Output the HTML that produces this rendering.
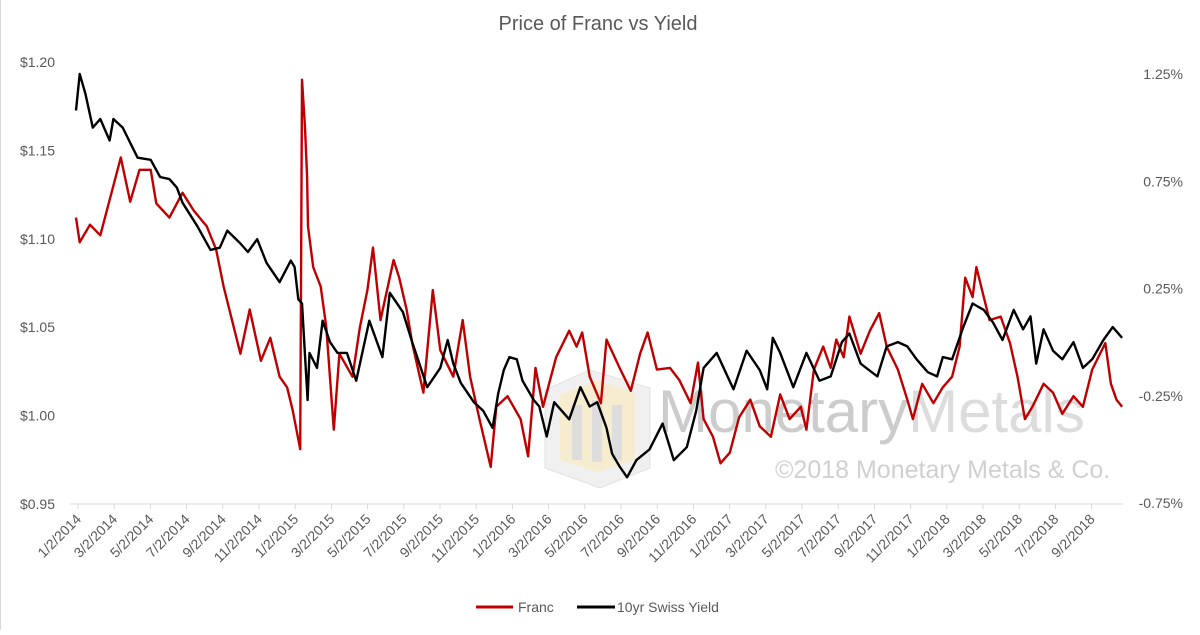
<!DOCTYPE html>
<html><head><meta charset="utf-8"><style>
body{margin:0;background:#fff;}
svg text{font-family:"Liberation Sans",sans-serif;}
</style></head><body>
<svg id="chart" width="1200" height="630" xmlns="http://www.w3.org/2000/svg">
<rect x="0" y="0" width="1200" height="630" fill="#fff"/>
<line x1="0.5" y1="0" x2="0.5" y2="630" stroke="#d9d9d9"/>
<text x="598" y="30" text-anchor="middle" font-size="20" fill="#595959">Price of Franc vs Yield</text>
<g opacity="0.85">
<polygon points="545,390 590,370 650,388 650,468 600,488 545,468" fill="#eeeeee" stroke="#dddddd"/>
<polygon points="560,395 598,380 635,393 635,460 598,472 560,460" fill="#f5ebc8"/>
<rect x="572" y="405" width="10" height="55" fill="#d8d8d8"/>
<rect x="592" y="400" width="10" height="62" fill="#d8d8d8"/>
<rect x="612" y="405" width="10" height="55" fill="#d8d8d8"/>
<text x="658" y="432" font-size="60" fill="#c4c4c4">Monetary<tspan fill="#d6d6d6">Metals</tspan></text>
<text x="775" y="478" font-size="25" fill="#c8c8c8">©2018 Monetary Metals &amp; Co.</text>
</g>
<g id="axes"></g>
<g id="series"></g>
<g>
<g>
<line x1="476" y1="607" x2="513" y2="607" stroke="#c00000" stroke-width="3"/>
<text x="518" y="612" font-size="14" fill="#595959">Franc</text></g>
<g>
<line x1="577" y1="607" x2="615" y2="607" stroke="#000" stroke-width="3"/>
<text x="617" y="612" font-size="14" fill="#595959">10yr Swiss Yield</text></g>
</g>
</svg>
<script>
// months since 1/2/2014
const francMonths=[0,0.2,0.75,1.3,2.4,2.9,3.4,4.0,4.3,5.0,5.7,6.3,7.0,7.5,7.9,8.8,9.3,9.9,10.4,10.9,11.3,11.6,12.0,12.1,12.26,12.37,12.42,12.7,13.1,13.4,13.8,14.1,14.8,15.2,15.6,15.9,16.3,17.0,17.3,17.7,18.0,18.6,19.1,19.5,20.2,20.7,21.1,21.6,22.2,22.5,23.1,23.8,24.2,24.6,25.0,25.7,26.4,26.8,27.1,27.5,28.1,28.4,29.1,29.7,30.2,30.6,31.1,31.8,32.3,32.9,33.3,33.6,34.1,34.5,35.0,35.5,36.1,36.6,37.2,37.7,38.2,38.8,39.1,39.5,40.0,40.4,40.7,41.1,41.4,42.0,42.5,43.0,43.4,44.0,44.5,44.8,45.3,45.9,46.4,46.9,47.3,47.6,48.0,48.2,48.6,48.9,49.5,50.0,50.4,50.8,51.2,51.8,52.3,52.8,53.4,53.9,54.4,55.1,55.4,55.7,56.0];
const francValues=[1.112,1.098,1.108,1.102,1.146,1.121,1.139,1.139,1.120,1.112,1.126,1.116,1.107,1.094,1.073,1.035,1.060,1.031,1.044,1.022,1.016,1.003,0.981,1.190,1.163,1.135,1.107,1.084,1.073,1.050,0.992,1.035,1.022,1.050,1.071,1.095,1.054,1.088,1.078,1.060,1.041,1.013,1.071,1.037,1.022,1.054,1.022,0.998,0.971,1.005,1.011,0.998,0.977,1.027,1.005,1.033,1.048,1.039,1.047,1.022,1.007,1.043,1.027,1.014,1.035,1.047,1.026,1.027,1.020,1.007,1.030,0.998,0.988,0.973,0.979,0.999,1.009,0.994,0.988,1.012,0.998,1.005,0.992,1.026,1.039,1.027,1.043,1.033,1.056,1.035,1.048,1.058,1.039,1.026,1.009,0.998,1.018,1.007,1.016,1.022,1.039,1.078,1.067,1.084,1.067,1.054,1.056,1.041,1.022,0.998,1.005,1.018,1.013,1.001,1.011,1.005,1.026,1.041,1.018,1.009,1.005];
const yieldMonths=[0,0.2,0.5,0.9,1.3,1.8,2.0,2.5,3.3,4.0,4.5,5.0,5.4,5.7,6.5,7.2,7.7,8.1,8.8,9.2,9.7,10.2,10.9,11.5,11.7,11.9,12.1,12.4,12.5,12.9,13.2,13.6,14.0,14.5,15.0,15.7,16.4,16.8,17.5,18.0,18.8,19.5,19.9,20.2,20.6,21.3,21.8,22.3,22.6,22.9,23.2,23.6,23.9,24.5,24.8,25.2,25.6,26.4,27.0,27.5,27.9,28.4,28.7,29.1,29.5,30.0,30.7,31.4,32.0,32.7,33.2,33.6,34.3,35.2,35.9,36.6,37.0,37.3,37.7,38.4,39.1,39.8,40.4,41.0,41.4,42.0,42.3,42.9,43.4,44.0,44.5,45.0,45.6,46.1,46.4,46.9,47.5,48.0,48.6,49.1,49.6,50.2,50.7,51.1,51.4,51.8,52.3,52.8,53.4,53.9,54.4,55.0,55.5,56.0];
const yieldValues=[1.08,1.25,1.16,1.00,1.04,0.94,1.04,1.00,0.86,0.85,0.77,0.76,0.72,0.65,0.54,0.43,0.44,0.52,0.46,0.42,0.48,0.37,0.28,0.38,0.35,0.20,0.18,-0.27,-0.05,-0.12,0.10,0.00,-0.05,-0.05,-0.18,0.10,-0.07,0.23,0.14,0.00,-0.21,-0.12,0.01,-0.10,-0.19,-0.28,-0.32,-0.40,-0.24,-0.13,-0.07,-0.08,-0.18,-0.27,-0.30,-0.44,-0.28,-0.36,-0.21,-0.30,-0.28,-0.40,-0.52,-0.58,-0.63,-0.55,-0.50,-0.38,-0.55,-0.49,-0.32,-0.12,-0.05,-0.22,-0.04,-0.13,-0.22,0.02,-0.05,-0.21,-0.05,-0.18,-0.16,0.00,0.04,-0.10,-0.12,-0.16,-0.02,0.00,-0.02,-0.08,-0.14,-0.16,-0.07,-0.08,0.07,0.18,0.15,0.09,0.01,0.15,0.06,0.12,-0.10,0.06,-0.04,-0.08,0.00,-0.12,-0.08,0.01,0.07,0.02];
const leftTicks=[0.95,1.00,1.05,1.10,1.15,1.20];
const rightTicks=[-0.75,-0.25,0.25,0.75,1.25];
const xLabels=["1/2/2014","3/2/2014","5/2/2014","7/2/2014","9/2/2014","11/2/2014","1/2/2015","3/2/2015","5/2/2015","7/2/2015","9/2/2015","11/2/2015","1/2/2016","3/2/2016","5/2/2016","7/2/2016","9/2/2016","11/2/2016","1/2/2017","3/2/2017","5/2/2017","7/2/2017","9/2/2017","11/2/2017","1/2/2018","3/2/2018","5/2/2018","7/2/2018","9/2/2018"];

const NS="http://www.w3.org/2000/svg";
const X0=76, MW=18.68, BOT=504;
const xs=m=>X0+m*MW;
// category tick axis (label slots)
const xt=i=>78+i*36.2;
const yL=v=>BOT-(v-0.95)/0.05*88.4;
const yR=v=>503-(v+0.75)*214.5;
const axes=document.getElementById('axes'), series=document.getElementById('series');
function mk(tag,attrs,parent){const e=document.createElementNS(NS,tag);for(const k in attrs)e.setAttribute(k,attrs[k]);parent.appendChild(e);return e;}

const ax=mk('line',{x1:70,y1:BOT,x2:1123,y2:BOT,stroke:'#d9d9d9','stroke-width':1},axes);


leftTicks.forEach(v=>{
 const t=mk('text',{x:55,y:yL(v)+5,'text-anchor':'end','font-size':14,fill:'#595959'},axes);
 t.textContent='$'+v.toFixed(2);
 
 
});
rightTicks.forEach(v=>{
 const t=mk('text',{x:1183,y:yR(v)+5,'text-anchor':'end','font-size':14,fill:'#595959'},axes);
 t.textContent=v.toFixed(2)+'%';
 
 
});
xLabels.forEach((l,i)=>{
 const x=xt(i);
 const tk=mk('line',{x1:x,y1:BOT,x2:x,y2:BOT+5,stroke:'#d9d9d9'},axes);
 
 
 const t=mk('text',{x:x+4,y:BOT+16,'text-anchor':'end','font-size':14,fill:'#595959',transform:`rotate(-45 ${x+4} ${BOT+16})`},axes);
 t.textContent=l;
 
 
});
function line(ms,vs,yf,color,name){
 const d=ms.map((m,i)=>(i?'L':'M')+xs(m).toFixed(1)+','+yf(vs[i]).toFixed(1)).join('');
 const p=mk('path',{d:d,fill:'none',stroke:color,'stroke-width':2.4,'stroke-linejoin':'round'},series);
 
 
}
line(francMonths,francValues,yL,'#c00000','franc-line');
line(yieldMonths,yieldValues,yR,'#000000','swiss-yield-line');
</script>
</body></html>
